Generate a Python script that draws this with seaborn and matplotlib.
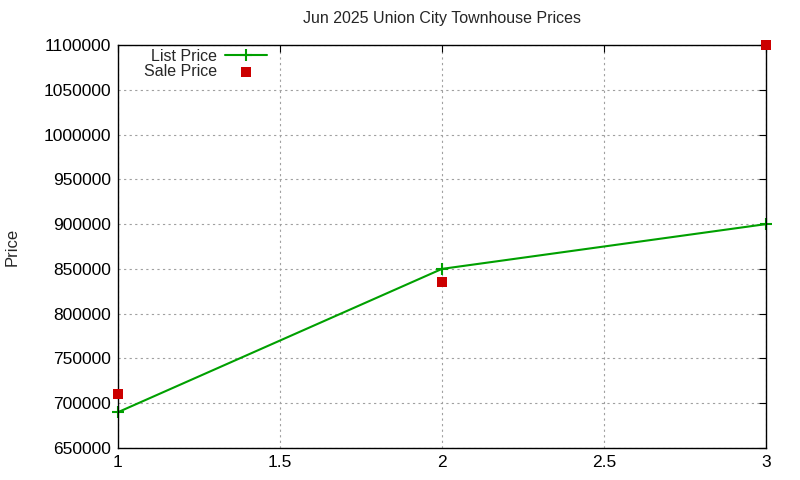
import matplotlib
matplotlib.use("Agg")
import matplotlib.pyplot as plt
import seaborn as sns
import pandas as pd

# data
x_vals = [1, 2, 3]
list_price = [690000, 850000, 900000]
sale_price = [710000, 835000, 1100000]

sns.set_style("white")
plt.rcParams['font.family'] = ['Liberation Sans', 'DejaVu Sans']

df = pd.DataFrame({"x": x_vals, "List Price": list_price, "Sale Price": sale_price})

fig = plt.figure(figsize=(8, 4.8), dpi=100)
ax = fig.add_axes([118 / 800, 1 - 448 / 480, (766 - 118) / 800, (448 - 45) / 480])

green = "#00a000"
sns.lineplot(data=df, x="x", y="List Price", ax=ax, color=green, linewidth=1.5,
             marker="+", markersize=9, markeredgewidth=1.5, markeredgecolor=green,
             label="List Price", clip_on=False)
sns.scatterplot(data=df, x="x", y="Sale Price", ax=ax, color="#cc0000", marker="s",
                s=50, edgecolor="none", label="Sale Price", zorder=5, clip_on=False)

ax.set_xlim(1, 3)
ax.set_ylim(650000, 1100000)
ax.set_xticks([1, 1.5, 2, 2.5, 3])
ax.set_xticklabels(["1", "1.5", "2", "2.5", "3"])
ax.set_yticks(range(650000, 1100001, 50000))
ax.set_yticklabels([str(v) for v in range(650000, 1100001, 50000)])
ax.tick_params(direction="in", length=5, labelsize=12.5, top=True, right=True,
               colors="black", pad=5)
for s in ax.spines.values():
    s.set_color("black")
    s.set_linewidth(1)
ax.grid(True, color="#a0a0a0", linestyle=(0, (2, 3)), linewidth=0.8)
ax.set_xlabel("")
ax.set_ylabel("Price", fontsize=12, va="center")
ax.yaxis.set_label_coords((12 - 118) / 648, 0.5)
ax.set_title("Jun 2025 Union City Townhouse Prices", fontsize=11.5, pad=16)

leg = ax.legend(loc="upper right", frameon=False, fontsize=11.5, markerfirst=False,
                bbox_to_anchor=(267 / 800, 1 - 49 / 480), bbox_transform=fig.transFigure,
                handlelength=2.6, handletextpad=0.5, labelspacing=0.0,
                borderpad=0, borderaxespad=0)
for t in leg.get_texts():
    t.set_ha("right")
leg._legend_box.align = "right"

fig.savefig("out.png", dpi=100)
